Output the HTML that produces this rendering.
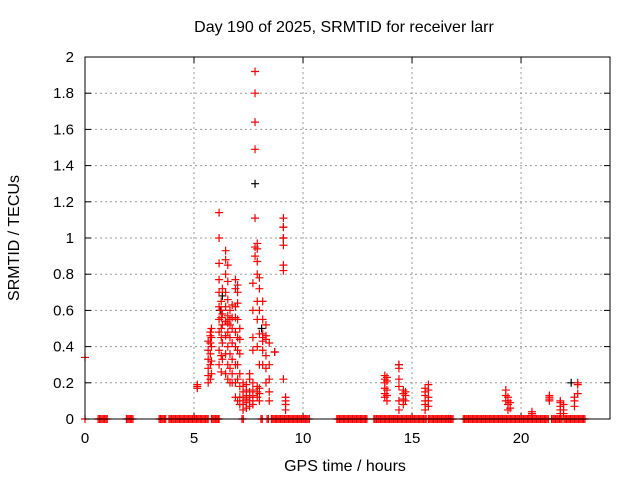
<!DOCTYPE html>
<html><head><meta charset="utf-8"><style>
body{margin:0;background:#fff;}
svg{display:block;font-family:"Liberation Sans",sans-serif;}
</style></head><body>
<svg id="chart" width="640" height="480" xmlns="http://www.w3.org/2000/svg">
<rect width="640" height="480" fill="#fff"/>
<text x="344" y="32" font-size="16" text-anchor="middle">Day 190 of 2025, SRMTID for receiver larr</text>
<text transform="translate(19,238) rotate(-90)" font-size="16" text-anchor="middle">SRMTID / TECUs</text>
<text x="345" y="471" font-size="16" text-anchor="middle">GPS time / hours</text>
<g id="grid"></g>
<g id="ticks"></g>
<g id="marks"></g>
<rect x="85" y="57" width="525" height="362" fill="none" stroke="#000" stroke-width="1"/>
</svg>
<script>
const xTicks=[0,5,10,15,20];
const yTicks=[0,0.2,0.4,0.6,0.8,1,1.2,1.4,1.6,1.8,2];
const yTickLabels=["0","0.2","0.4","0.6","0.8","1","1.2","1.4","1.6","1.8","2"];
const zeroSegments=[[0,0.05],[0.6,1.05],[1.9,2.25],[3.4,3.75],[3.85,5.7],[5.8,6.1],[6.15,6.2],[7.2,7.3],[8.07,8.17],[8.35,8.45],[8.55,10.3],[11.55,12.95],[13.25,15.7],[15.75,16.65],[16.7,16.9],[17.35,19.1],[19.15,21.3],[21.4,21.9],[21.97,22.95]];
const redHours=[0,5.15,5.65,5.75,5.8,6.15,6.25,6.3,6.45,6.55,6.65,6.75,6.9,7.0,7.1,7.25,7.4,7.55,7.7,7.8,7.9,8.0,8.15,8.3,8.45,8.7,9.1,9.2,13.75,13.85,14.4,14.6,14.7,15.6,15.75,19.3,19.4,19.5,20.5,21.3,21.8,21.95,22.45,22.6];
const redValues=[
[0.34],
[0.17,0.18,0.19],
[0.2,0.24,0.28,0.33,0.38,0.43],
[0.22,0.3,0.36,0.42,0.46,0.48],
[0.25,0.32,0.4,0.45,0.5],
[0.3,0.38,0.48,0.55,0.62,0.7,0.77,0.86,1.0,1.14],
[0.26,0.35,0.45,0.5,0.56,0.6,0.65],
[0.33,0.42,0.52,0.58,0.72],
[0.25,0.36,0.46,0.54,0.62,0.7,0.8,0.88,0.93],
[0.22,0.3,0.4,0.48,0.53,0.57,0.66,0.76,0.85],
[0.2,0.28,0.36,0.45,0.52,0.55,0.6],
[0.2,0.25,0.33,0.42,0.5,0.56,0.63],
[0.12,0.2,0.3,0.4,0.48,0.56,0.62,0.72,0.77],
[0.1,0.22,0.3,0.38,0.45,0.55,0.64,0.7,0.74],
[0.08,0.12,0.18,0.25,0.36,0.44,0.5],
[0.05,0.08,0.1,0.12,0.15,0.18,0.2],
[0.06,0.09,0.11,0.13,0.16,0.19],
[0.07,0.1,0.12,0.15,0.22,0.25],
[0.08,0.1,0.13,0.16,0.2,0.38,0.45,0.6,0.75],
[0.9,0.95,1.11,1.49,1.64,1.8,1.92],
[0.12,0.15,0.18,0.4,0.55,0.65,0.8,0.87,0.94,0.97],
[0.1,0.14,0.17,0.3,0.47,0.6,0.72,0.78],
[0.3,0.38,0.43,0.45,0.47,0.55,0.65],
[0.2,0.28,0.35,0.44,0.46,0.52],
[0.1,0.15,0.22,0.3,0.42],
[0.37],
[0.22,0.82,0.85,0.96,1.0,1.06,1.11],
[0.05,0.08,0.1,0.12],
[0.12,0.14,0.17,0.2,0.22,0.24],
[0.1,0.13,0.16,0.21,0.23],
[0.05,0.1,0.18,0.22,0.28,0.3],
[0.08,0.11,0.14,0.16],
[0.1,0.13,0.15],
[0.05,0.08,0.1,0.13,0.15,0.17],
[0.07,0.1,0.12,0.16,0.19],
[0.1,0.13,0.16],
[0.05,0.08,0.1,0.12],
[0.06,0.09],
[0.02,0.03,0.04],
[0.1,0.11,0.12,0.13],
[0.03,0.05,0.07,0.09,0.1],
[0.03,0.05,0.08],
[0.07,0.1,0.12],
[0.14,0.19,0.2]
];
const blackHours=[6.2,6.3,7.8,8.1,8.7,9.1,9.1,14.4,22.3];
const blackValues=[0.6,0.68,1.3,0.5,0.37,1.06,1.0,0.3,0.2];

const X0=85,X1=610,Y0=419,Y1=57,XMAX=24.08,YMAX=2;
const xs=h=>X0+h/XMAX*(X1-X0);
const ys=v=>Y0-v/YMAX*(Y0-Y1);
const NS="http://www.w3.org/2000/svg";
const grid=document.getElementById('grid'),ticks=document.getElementById('ticks'),marks=document.getElementById('marks');
function mk(tag,attrs,parent){const e=document.createElementNS(NS,tag);for(const k in attrs)e.setAttribute(k,attrs[k]);parent.appendChild(e);return e;}
xTicks.forEach(t=>{const x=xs(t);
 if(t>0){const g=mk('line',{x1:x,x2:x,y1:Y1,y2:Y0,stroke:'#999','stroke-dasharray':'2,3'},grid);
 
 }
 mk('line',{x1:x,x2:x,y1:Y0,y2:Y0-6,stroke:'#000'},ticks);
 mk('line',{x1:x,x2:x,y1:Y1,y2:Y1+6,stroke:'#000'},ticks);
 const l=mk('text',{x:x,y:443,'font-size':15,'text-anchor':'middle'},ticks);l.textContent=t;
 
 
});
yTicks.forEach((t,i)=>{const y=ys(t);
 if(t>0&&t<2){const g=mk('line',{x1:X0,x2:X1,y1:y,y2:y,stroke:'#999','stroke-dasharray':'2,3'},grid);
 
 }
 mk('line',{x1:X0,x2:X0+6,y1:y,y2:y,stroke:'#000'},ticks);
 mk('line',{x1:X1,x2:X1-6,y1:y,y2:y,stroke:'#000'},ticks);
 const l=mk('text',{x:74,y:y+5,'font-size':15,'text-anchor':'end'},ticks);l.textContent=yTickLabels[i];
 
 
});
function plus(h,v,color,name){const x=xs(h),y=ys(v);
 const p=mk('path',{d:`M${x-4},${y}H${x+4}M${x},${y-4}V${y+4}`,stroke:color,'stroke-width':1.2,fill:'none'},marks);
 
 
}
blackHours.forEach((h,i)=>plus(h,blackValues[i],'#000','black-point'));
zeroSegments.forEach(s=>{for(let h=s[0];h<=s[1]+1e-9;h+=0.06)plus(h,0,'#f00','zero-point');});
redHours.forEach((h,i)=>redValues[i].forEach(v=>plus(h,v,'#f00','red-point')));
</script>
</body></html>
